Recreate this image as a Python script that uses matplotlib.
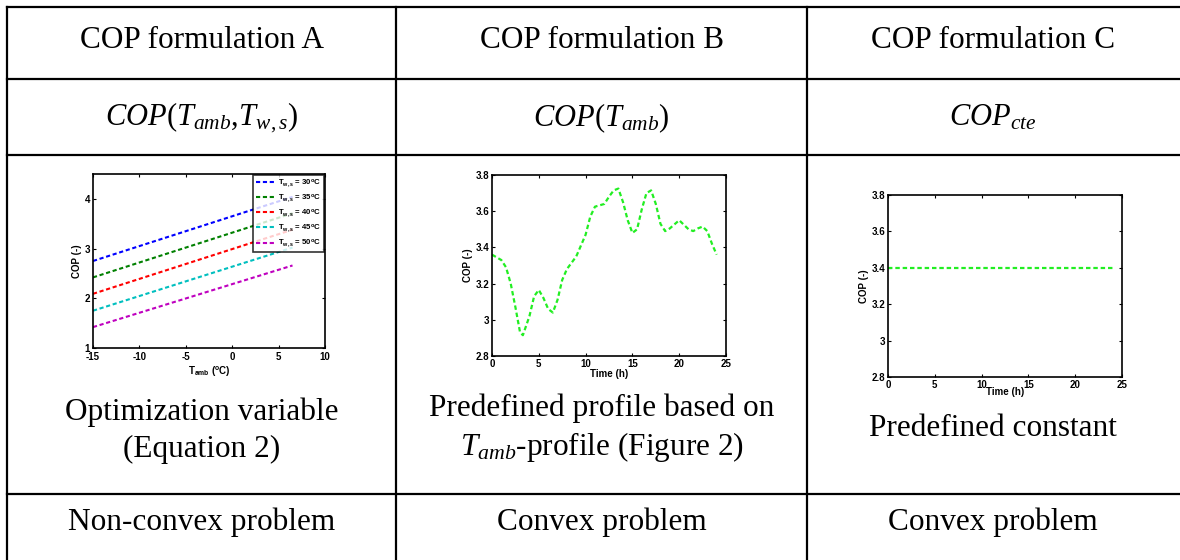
import numpy as np
import matplotlib
matplotlib.use("Agg")
import matplotlib.pyplot as plt
from matplotlib.lines import Line2D

# ── fonts ──────────────────────────────────────────────────────────────
plt.rcParams.update({
    "font.family": "Liberation Sans",
    "mathtext.fontset": "custom",
    "mathtext.rm": "Liberation Serif",
    "mathtext.it": "Liberation Serif:italic",
    "mathtext.bf": "Liberation Sans:bold",
    "axes.unicode_minus": False,
})

# ── data ───────────────────────────────────────────────────────────────
# formulation A: COP(T_amb) lines for each supply temperature (read at ends)
tamb_ends = [-15, 6.5]
tws_labels = ["30", "35", "40", "45", "50"]
cop_a = [
    [2.75, 4.04],
    [2.42, 3.71],
    [2.09, 3.38],
    [1.75, 3.02],
    [1.42, 2.66],
]
colors_a = ["#0000ff", "#008000", "#ff0000", "#00bfbf", "#bf00bf"]

# formulation B: COP profile over the day
time_b = [0, 1, 1.5, 2, 2.5, 3, 3.3, 4, 4.5, 5, 5.5, 6, 6.5, 7, 7.5, 8, 9,
          10, 10.5, 11, 12, 12.5, 13, 13.5, 14, 14.5, 15, 15.5, 16, 16.5,
          17, 17.5, 18, 18.5, 19, 20, 21, 21.5, 22, 22.5, 23, 23.5, 24]
cop_b = [3.36, 3.33, 3.29, 3.20, 3.07, 2.93, 2.915, 3.02, 3.13, 3.165, 3.12,
         3.06, 3.04, 3.11, 3.22, 3.28, 3.35, 3.47, 3.57, 3.625, 3.64, 3.68,
         3.715, 3.725, 3.65, 3.55, 3.48, 3.50, 3.61, 3.70, 3.715, 3.64, 3.53,
         3.49, 3.505, 3.55, 3.50, 3.49, 3.505, 3.515, 3.49, 3.42, 3.36]

# formulation C: constant COP
time_c = [0, 24]
cop_c = [3.4, 3.4]

header = ["COP formulation A", "COP formulation B", "COP formulation C"]
symbols = [r"$COP(T_{amb},\!T_{w,s})$", r"$COP(T_{amb})$", r"$COP_{cte}$"]
descr = ["Optimization variable\n(Equation 2)",
         "Predefined profile based on\n$T_{amb}$-profile (Figure 2)",
         "Predefined constant"]
problem = ["Non-convex problem", "Convex problem", "Convex problem"]

# ── layout ─────────────────────────────────────────────────────────────
W, H = 1180, 560
fig = plt.figure(figsize=(W / 100, H / 100), dpi=100)

bg = fig.add_axes([0, 0, 1, 1])
bg.set_xlim(0, W)
bg.set_ylim(H, 0)
bg.axis("off")

col_x = [7, 396, 807, W + 10]
row_y = [7, 79, 155, 494, H + 10]
for x in col_x[:-1]:
    bg.add_line(Line2D([x, x], [row_y[0], H + 5], color="black", lw=1.6))
for y in row_y[:-1]:
    bg.add_line(Line2D([col_x[0], W + 5], [y, y], color="black", lw=1.6))

serif = "Liberation Serif"
FS = 22.5
centers = [(col_x[i] + col_x[i + 1]) / 2 for i in range(2)] + [993]
for i in range(3):
    bg.text(centers[i], 48, header[i], ha="center", va="baseline",
            fontsize=FS, family=serif)
    bg.text(centers[i], 118, symbols[i], ha="center", va="center",
            fontsize=22, family=serif)
    bg.text(centers[i], 530, problem[i], ha="center", va="baseline",
            fontsize=FS, family=serif)
bg.text(centers[0], 431, descr[0], ha="center", va="center",
        fontsize=FS, family=serif, linespacing=1.35)
bg.text(centers[1], 429, descr[1], ha="center", va="center",
        fontsize=FS, family=serif, linespacing=1.3)
bg.text(centers[2], 428, descr[2], ha="center", va="center",
        fontsize=FS, family=serif)


def px_axes(x0, y0, x1, y1):
    return fig.add_axes([x0 / W, 1 - y1 / H, (x1 - x0) / W, (y1 - y0) / H])


def matlab_style(ax):
    ax.tick_params(direction="in", length=2, width=0.8, labelsize=7,
                   top=True, right=True, pad=2)
    ax.tick_params(axis="x", pad=3)
    for lab in ax.get_xticklabels() + ax.get_yticklabels():
        lab.set_fontweight("bold")
    for sp in ax.spines.values():
        sp.set_linewidth(1.2)


# ── A ──────────────────────────────────────────────────────────────────
axa = px_axes(93, 174, 325, 348)
for lbl, vals, c in zip(tws_labels, cop_a, colors_a):
    axa.plot(tamb_ends, vals, color=c, lw=1.5, dashes=[2, 1.3],
             label=r"T$_{\mathbf{w,s}}$ = " + lbl + r"$^{\mathbf{o}}$C")
axa.set_xlim(-15, 10)
axa.set_ylim(1, 4.5)
axa.set_xticks([-15, -10, -5, 0, 5, 10])
axa.set_yticks([1, 2, 3, 4])
matlab_style(axa)
axa.set_xlabel(r"T$_{\mathbf{amb}}$ ($^{\mathbf{o}}$C)", fontsize=7,
               fontweight="bold", labelpad=1)
axa.set_ylabel("COP (-)", fontsize=7, fontweight="bold", labelpad=2)
leg = axa.legend(loc="upper right", fontsize=5.6, frameon=True, fancybox=False,
                 handlelength=2.6, handletextpad=0.3, borderpad=0.35,
                 labelspacing=0.45, borderaxespad=0.15)
leg.get_frame().set_edgecolor("black")
leg.get_frame().set_linewidth(1.2)
for t in leg.get_texts():
    t.set_fontweight("bold")

# ── B ──────────────────────────────────────────────────────────────────
axb = px_axes(492, 175, 726, 356)
axb.plot(time_b, cop_b, color="#22ee22", lw=1.6, dashes=[2, 1.3])
axb.set_xlim(0, 25)
axb.set_ylim(2.8, 3.8)
axb.set_xticks([0, 5, 10, 15, 20, 25])
axb.set_yticks([2.8, 3, 3.2, 3.4, 3.6, 3.8])
axb.set_yticklabels(["2.8", "3", "3.2", "3.4", "3.6", "3.8"])
matlab_style(axb)
axb.tick_params(axis="x", pad=2)
axb.set_xlabel("Time (h)", fontsize=7, fontweight="bold", labelpad=0)
axb.set_ylabel("COP (-)", fontsize=7, fontweight="bold", labelpad=2)

# ── C ──────────────────────────────────────────────────────────────────
axc = px_axes(888, 195, 1122, 377)
axc.plot(time_c, cop_c, color="#22ee22", lw=1.6, dashes=[2, 1.3])
axc.set_xlim(0, 25)
axc.set_ylim(2.8, 3.8)
axc.set_xticks([0, 5, 10, 15, 20, 25])
axc.set_yticks([2.8, 3, 3.2, 3.4, 3.6, 3.8])
axc.set_yticklabels(["2.8", "3", "3.2", "3.4", "3.6", "3.8"])
matlab_style(axc)
axc.tick_params(axis="x", pad=2)
axc.set_xlabel("Time (h)", fontsize=7, fontweight="bold", labelpad=-2)
axc.set_ylabel("COP (-)", fontsize=7, fontweight="bold", labelpad=2)

fig.savefig("out.png", dpi=100)
